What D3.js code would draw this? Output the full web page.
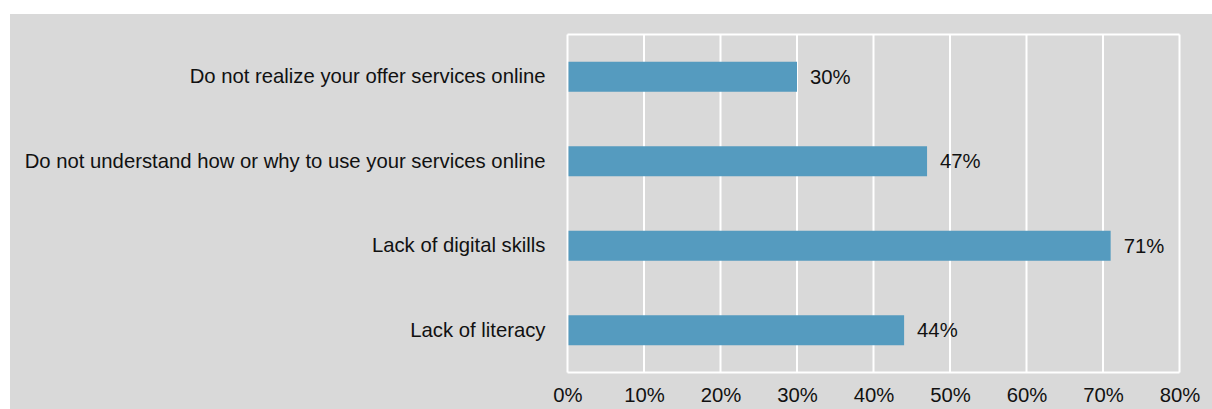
<!DOCTYPE html>
<html>
<head>
<meta charset="utf-8">
<script src="https://cdn.jsdelivr.net/npm/d3@7"></script>
<style>
  html, body { margin: 0; padding: 0; background: #ffffff; }
  svg { display: block; }
  text { font-family: "Liberation Sans", Arial, sans-serif; fill: #111111; }
</style>
</head>
<body>
<svg id="chart" width="1212" height="409"></svg>
<script>
// Reasons people do not use services online (share of respondents, %)
const categories = [
  "Do not realize your offer services online",
  "Do not understand how or why to use your services online",
  "Lack of digital skills",
  "Lack of literacy"
];
const values = [30, 47, 71, 44];
const tickValues = [0, 10, 20, 30, 40, 50, 60, 70, 80];

const W = 1212, H = 409;
const panel = { x: 10, y: 14 };
const plot = { left: 567.5, right: 1179.5, top: 34.5, bottom: 372.5 };
const fontSize = 20.3;

const svg = d3.select("#chart");

// grey panel behind the chart
svg.append("rect")
  .attr("x", panel.x).attr("y", panel.y)
  .attr("width", W - panel.x).attr("height", H - panel.y)
  .attr("fill", "#d9d9d9");

const x = d3.scaleLinear().domain([0, 80]).range([plot.left, plot.right]);
const y = d3.scaleBand().domain(categories)
  .range([plot.top, plot.bottom]).paddingInner(0.645).paddingOuter(0.3225);

// vertical gridlines
svg.append("g")
  .selectAll("line")
  .data(tickValues)
  .join("line")
  .attr("x1", d => x(d)).attr("x2", d => x(d))
  .attr("y1", plot.top).attr("y2", plot.bottom)
  .attr("stroke", "#ffffff").attr("stroke-width", 2);

// plot frame top & bottom
svg.append("line")
  .attr("x1", plot.left).attr("x2", plot.right)
  .attr("y1", plot.top).attr("y2", plot.top)
  .attr("stroke", "#ffffff").attr("stroke-width", 2);
svg.append("line")
  .attr("x1", plot.left).attr("x2", plot.right)
  .attr("y1", plot.bottom).attr("y2", plot.bottom)
  .attr("stroke", "#ffffff").attr("stroke-width", 2);

// bars
svg.append("g")
  .selectAll("rect")
  .data(values)
  .join("rect")
  .attr("x", x(0) + 1)
  .attr("y", (d, i) => y(categories[i]))
  .attr("width", d => x(d) - x(0) - 1)
  .attr("height", y.bandwidth())
  .attr("fill", "#559bbf");

// value labels
svg.append("g")
  .selectAll("text")
  .data(values)
  .join("text")
  .attr("x", d => x(d) + 13)
  .attr("y", (d, i) => y(categories[i]) + y.bandwidth() / 2)
  .attr("dy", "0.35em")
  .attr("font-size", fontSize)
  .text(d => d + "%");

// category labels
const yAxis = d3.axisLeft(y).tickSize(0).tickPadding(22);
const gy = svg.append("g")
  .attr("transform", `translate(${plot.left},0)`)
  .call(yAxis);
gy.select(".domain").remove();
gy.selectAll("text").attr("font-size", fontSize).attr("font-family", null).attr("fill", "#111111");

// x axis labels
const xAxis = d3.axisBottom(x).tickValues(tickValues).tickSize(0).tickPadding(15)
  .tickFormat(d => d + "%");
const gx = svg.append("g")
  .attr("transform", `translate(0,${plot.bottom})`)
  .call(xAxis);
gx.select(".domain").remove();
gx.selectAll("text").attr("font-size", fontSize).attr("font-family", null).attr("fill", "#111111");
</script>
</body>
</html>
